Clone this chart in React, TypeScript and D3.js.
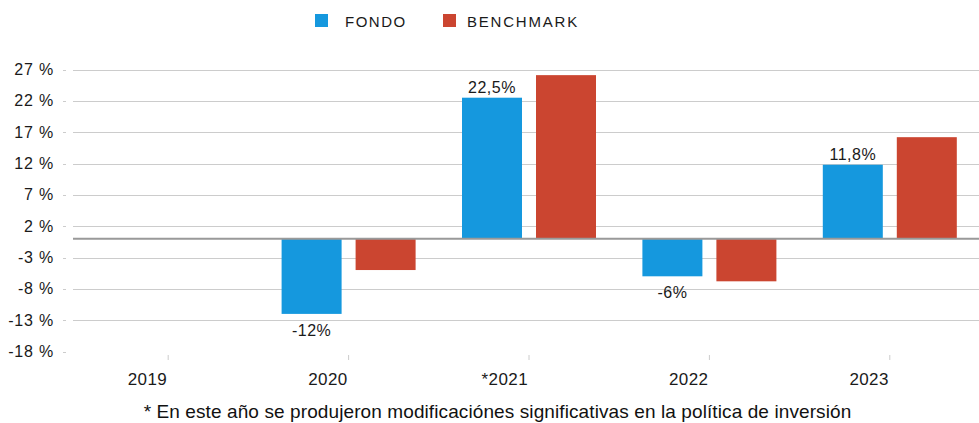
import React from "react";
import * as d3 from "d3";

const years = ["2019", "2020", "*2021", "2022", "2023"];
const fondo: (number | null)[] = [null, -12, 22.5, -6, 11.8];
const benchmark: (number | null)[] = [null, -5, 26.1, -6.8, 16.2];
const fondoLabels = ["", "-12%", "22,5%", "-6%", "11,8%"];
const yTicks = [27, 22, 17, 12, 7, 2, -3, -8, -13, -18];
const seriesNames = ["FONDO", "BENCHMARK"];

const W = 979;
const H = 423;
const BLUE = "#1598de";
const RED = "#cb4530";
const FONT = "'Liberation Sans', Arial, sans-serif";

export default function App() {
  const x = d3.scaleBand<string>().domain(years).range([78, 980]).padding(0);
  const y = d3.scaleLinear().domain([-18, 27]).range([351.5, 69.5]);
  const barW = 60;
  const gap = 14;
  const series = [fondo, benchmark];
  const colors = [BLUE, RED];

  return (
    <svg width={W} height={H} style={{ position: "absolute", left: 0, top: 0, fontFamily: FONT }}>
      <rect width={W} height={H} fill="#fff" />
      {/* legend */}
      <rect x={315} y={14} width={13} height={13} fill={BLUE} />
      <text x={345} y={26.5} fontSize={15} letterSpacing={1.5} fill="#1a1a1a">{seriesNames[0]}</text>
      <rect x={443} y={14} width={13} height={13} fill={RED} />
      <text x={467} y={26.5} fontSize={15} letterSpacing={1.8} fill="#1a1a1a">{seriesNames[1]}</text>

      {/* grid + y labels */}
      {yTicks.map((t) => (
        <g key={t}>
          {t !== -18 && (
            <line x1={73} x2={979} y1={Math.round(y(t)) + 0.5} y2={Math.round(y(t)) + 0.5} stroke="#cccccc" strokeWidth={1} />
          )}
          <line x1={63} x2={66} y1={Math.round(y(t)) + 0.5} y2={Math.round(y(t)) + 0.5} stroke="#cccccc" />
          <text x={54} y={y(t) + 5.5} fontSize={16} textAnchor="end" fill="#1a1a1a" letterSpacing={0.8}>
            {`${t} %`}
          </text>
        </g>
      ))}

      {/* bars */}
      {series.map((s, si) =>
        s.map((v, i) => {
          if (v === null) return null;
          const c = x(years[i])! + x.bandwidth() / 2;
          const bx = si === 0 ? c - gap / 2 - barW : c + gap / 2;
          const y0 = y(0);
          const yv = y(v);
          return (
            <rect key={`${si}-${i}`} x={bx} y={Math.min(y0, yv)} width={barW} height={Math.abs(yv - y0)} fill={colors[si]} />
          );
        })
      )}

      {/* zero line */}
      <line x1={73} x2={979} y1={y(0)} y2={y(0)} stroke="#999999" strokeWidth={2} />

      {/* data labels */}
      {fondo.map((v, i) => {
        if (v === null) return null;
        const c = x(years[i])! + x.bandwidth() / 2 - gap / 2 - barW / 2;
        const ty = v >= 0 ? y(v) - 4.5 : y(v) + 22;
        return (
          <text key={i} x={c} y={ty} fontSize={16} textAnchor="middle" fill="#1a1a1a" letterSpacing={0.5}>
            {fondoLabels[i]}
          </text>
        );
      })}

      {/* x ticks + labels */}
      {years.map((yr) => {
        const c = x(yr)! + x.bandwidth() / 2;
        return (
          <g key={yr}>
            <line x1={c} x2={c} y1={355} y2={360} stroke="#cccccc" />
            <text x={c - 1} y={385} fontSize={17} textAnchor="end" fill="#1a1a1a" letterSpacing={0.4}>
              {yr}
            </text>
          </g>
        );
      })}

      <text x={497.5} y={417.5} fontSize={19} textAnchor="middle" fill="#111" letterSpacing={0.1}>
        * En este año se produjeron modificaciónes significativas en la política de inversión
      </text>
    </svg>
  );
}
